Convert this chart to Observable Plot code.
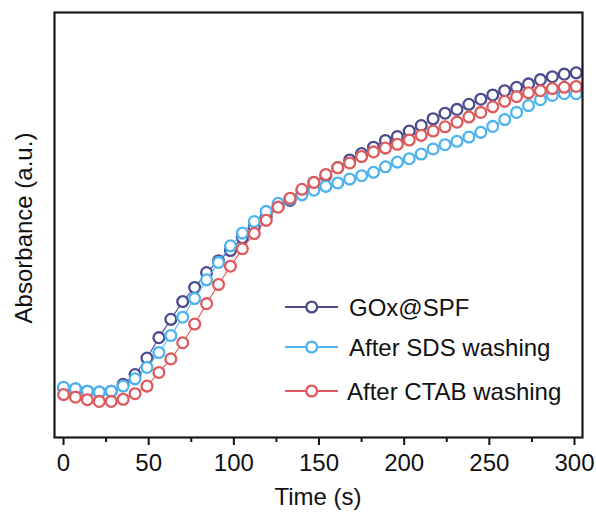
<!DOCTYPE html>
<html>
<head>
<meta charset="utf-8">
<script src="https://cdn.jsdelivr.net/npm/d3@7"></script>
<script src="https://cdn.jsdelivr.net/npm/@observablehq/plot@0.6"></script>
<style>
  html, body { margin: 0; padding: 0; background: #fff; }
  #chart svg { display: block; }
</style>
</head>
<body>
<div id="chart"></div>
<script>
// Time points (s), sampled every 7 s
const times = d3.range(44).map(i => i * 7);

const seriesNames = ["GOx@SPF", "After SDS washing", "After CTAB washing"];
const seriesColors = ["#4b4b8d", "#4db3ef", "#df5a5c"];

const goxSPF = [0.117,0.114,0.109,0.107,0.109,0.125,0.148,0.187,0.235,0.278,
  0.320,0.353,0.388,0.416,0.440,0.470,0.495,0.520,0.544,0.558,
  0.581,0.600,0.616,0.635,0.653,0.668,0.683,0.699,0.708,0.721,
  0.734,0.750,0.763,0.772,0.784,0.796,0.806,0.816,0.824,0.832,
  0.842,0.849,0.855,0.858];

const afterSDS = [0.118,0.115,0.109,0.107,0.109,0.121,0.138,0.165,0.200,0.240,
  0.283,0.327,0.371,0.412,0.451,0.481,0.508,0.532,0.551,0.561,
  0.571,0.582,0.591,0.599,0.608,0.616,0.624,0.637,0.648,0.656,
  0.667,0.679,0.689,0.697,0.707,0.718,0.732,0.748,0.765,0.781,
  0.795,0.805,0.809,0.809];

const afterCTAB = [0.101,0.095,0.089,0.085,0.085,0.090,0.103,0.121,0.153,0.185,
  0.223,0.267,0.315,0.360,0.403,0.444,0.480,0.511,0.542,0.563,
  0.584,0.600,0.619,0.635,0.646,0.661,0.672,0.681,0.690,0.700,
  0.711,0.721,0.731,0.742,0.754,0.765,0.778,0.791,0.802,0.811,
  0.816,0.821,0.824,0.826];

const majorTicks = [0, 50, 100, 150, 200, 250, 300];
const minorTicks = [25, 75, 125, 175, 225, 275];

const allSeries = [goxSPF, afterSDS, afterCTAB];
const tables = allSeries.map((vals, k) =>
  times.map((t, i) => ({time: t, value: vals[i], series: seriesNames[k]})));

const font = "Liberation Sans, Arial, Helvetica, sans-serif";

const marks = [];
tables.forEach((tbl, k) => {
  marks.push(Plot.line(tbl, {x: "time", y: "value", stroke: seriesColors[k], strokeWidth: 1.1}));
  marks.push(Plot.dot(tbl, {x: "time", y: "value", r: 5.4, stroke: seriesColors[k], strokeWidth: 2.3, fill: "white"}));
});

const chart = Plot.plot({
  width: 596,
  height: 515,
  marginLeft: 54,
  marginRight: 14,
  marginTop: 12,
  marginBottom: 78,
  style: {fontFamily: font, fontSize: "24px", color: "#111", background: "white"},
  x: {domain: [-5.3, 304.7], label: null},
  y: {domain: [0, 1], label: null},
  marks: [
    ...marks,
    Plot.axisX({ticks: majorTicks, tickSize: 8, tickPadding: 8, tickFormat: d => String(d), fontSize: 24, strokeWidth: 2, label: null}),
    Plot.axisX({ticks: minorTicks, tickSize: 5, tickFormat: () => "", strokeWidth: 2, label: null}),
    Plot.axisY({ticks: [], label: null}),
    Plot.frame({stroke: "#1a1a1a", strokeWidth: 2.2})
  ]
});

document.getElementById("chart").appendChild(chart);

// Axis titles and legend (pixel layout)
const svg = d3.select(chart);
svg.append("text")
  .attr("x", 318).attr("y", 505)
  .attr("text-anchor", "middle")
  .attr("font-family", font).attr("font-size", 24).attr("fill", "#111")
  .text("Time (s)");
svg.append("text")
  .attr("transform", "translate(32,228) rotate(-90)")
  .attr("text-anchor", "middle")
  .attr("font-family", font).attr("font-size", 24).attr("fill", "#111")
  .text("Absorbance (a.u.)");

const legendY = [307, 347, 391];
const legendTextX = [349, 349, 347];
seriesNames.forEach((name, k) => {
  const g = svg.append("g");
  g.append("line").attr("x1", 285).attr("x2", 338).attr("y1", legendY[k]).attr("y2", legendY[k])
    .attr("stroke", seriesColors[k]).attr("stroke-width", 2);
  g.append("circle").attr("cx", 311.7).attr("cy", legendY[k]).attr("r", 5.4)
    .attr("fill", "white").attr("stroke", seriesColors[k]).attr("stroke-width", 2.3);
  g.append("text").attr("x", legendTextX[k]).attr("y", legendY[k]).attr("dy", "0.36em")
    .attr("text-anchor", "start")
    .attr("font-family", font).attr("font-size", 24).attr("fill", "#111")
    .text(name);
});
</script>
</body>
</html>
